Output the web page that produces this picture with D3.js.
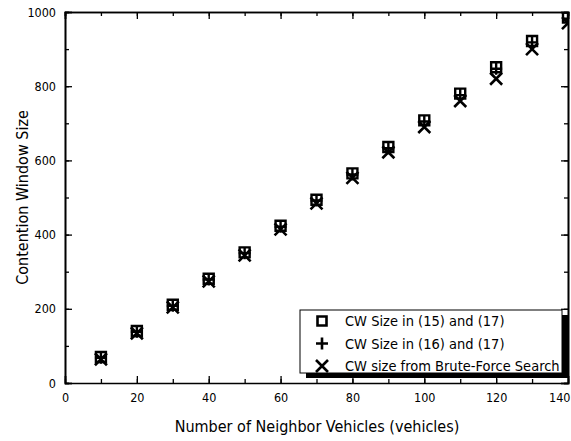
<!DOCTYPE html>
<html>
<head>
<meta charset="utf-8">
<script src="https://cdn.jsdelivr.net/npm/d3@7"></script>
<style>
  body { margin: 0; background: #fff; }
  text { font-family: Tahoma, "DejaVu Sans Condensed", "Liberation Sans", sans-serif; fill: #000; }
</style>
</head>
<body>
<script>
// data
const neighbors = [10, 20, 30, 40, 50, 60, 70, 80, 90, 100, 110, 120, 130, 140];
const cwEq15 = [70, 140, 211, 281, 352, 424, 494, 565, 636, 708, 780, 851, 922, 985];
const cwEq16 = [68, 138, 208, 279, 350, 421, 492, 562, 633, 705, 776, 847, 918, 982];
const cwBrute = [64, 134, 204, 274, 344, 414, 484, 553, 622, 690, 760, 820, 900, 970];
const xTicks = [0, 20, 40, 60, 80, 100, 120, 140];
const yTicks = [0, 200, 400, 600, 800, 1000];
const legendLabels = ["CW Size in (15) and (17)", "CW Size in (16) and (17)", "CW size from Brute-Force Search"];

const width = 571, height = 441;
const margin = {left: 65, right: 3, top: 12, bottom: 58};

const svg = d3.select('body').append('svg')
    .attr('width', width)
    .attr('height', height);

const x = d3.scaleLinear([0, 140], [margin.left, width - margin.right]);
const y = d3.scaleLinear([0, 1000], [height - margin.bottom, margin.top]);

svg.append('defs').append('clipPath').attr('id', 'plot')
  .append('rect')
    .attr('x', x(0)).attr('y', y(1000))
    .attr('width', x(140) - x(0)).attr('height', y(0) - y(1000));

// axes, ticks pointing inward
const minorX = d3.range(0, 141, 10);
const minorY = d3.range(0, 1001, 100);

svg.append('g')
    .attr('transform', `translate(0,${y(0)})`)
    .call(d3.axisBottom(x).tickValues(minorX).tickSize(-4).tickFormat(''))
    .call(g => g.select('.domain').remove());
svg.append('g')
    .attr('transform', `translate(0,${y(0)})`)
    .call(d3.axisBottom(x).tickValues(xTicks).tickSize(-7).tickPadding(10).tickFormat(d3.format('d')))
    .call(g => g.selectAll('text').attr('font-size', 12.5))
    .call(g => g.selectAll('.tick').filter(d => d === 140).select('text')
        .attr('text-anchor', 'end').attr('x', width - 1 - x(140)));
svg.append('g')
    .attr('transform', `translate(0,${y(1000)})`)
    .call(d3.axisTop(x).tickValues(minorX).tickSize(-4).tickFormat(''));
svg.append('g')
    .attr('transform', `translate(0,${y(1000)})`)
    .call(d3.axisTop(x).tickValues(xTicks).tickSize(-7).tickFormat(''));

svg.append('g')
    .attr('transform', `translate(${x(0)},0)`)
    .call(d3.axisLeft(y).tickValues(minorY).tickSize(-4).tickFormat(''));
svg.append('g')
    .attr('transform', `translate(${x(0)},0)`)
    .call(d3.axisLeft(y).tickValues(yTicks).tickSize(-7).tickPadding(9).tickFormat(d3.format('d')))
    .call(g => g.selectAll('text').attr('font-size', 12.5));
svg.append('g')
    .attr('transform', `translate(${x(140)},0)`)
    .call(d3.axisRight(y).tickValues(minorY).tickSize(-4).tickFormat(''));
svg.append('g')
    .attr('transform', `translate(${x(140)},0)`)
    .call(d3.axisRight(y).tickValues(yTicks).tickSize(-7).tickFormat(''));

svg.selectAll('.domain').attr('stroke-width', 1.6);
svg.selectAll('.tick line').attr('stroke-width', 1.3);

// markers
const sq = d3.symbol(d3.symbolSquare, 100)();
function plusPath(s) { return `M${-s},0H${s}M0,${-s}V${s}`; }
function xPath(s) { return `M${-s},${-s}L${s},${s}M${s},${-s}L${-s},${s}`; }

const marks = svg.append('g').attr('clip-path', 'url(#plot)');
const rows = neighbors.map((n, i) => ({n, a: cwEq15[i], b: cwEq16[i], c: cwBrute[i]}));

marks.selectAll('.sq').data(rows).join('path')
    .attr('transform', d => `translate(${x(d.n)},${y(d.a)})`)
    .attr('d', sq)
    .attr('fill', 'none').attr('stroke', '#000').attr('stroke-width', 2.4);
marks.selectAll('.pl').data(rows).join('path')
    .attr('transform', d => `translate(${x(d.n)},${y(d.b)})`)
    .attr('d', plusPath(6))
    .attr('fill', 'none').attr('stroke', '#000').attr('stroke-width', 2.4);
marks.selectAll('.xx').data(rows).join('path')
    .attr('transform', d => `translate(${x(d.n)},${y(d.c)})`)
    .attr('d', xPath(6))
    .attr('fill', 'none').attr('stroke', '#000').attr('stroke-width', 2.6);

// axis titles
svg.append('text')
    .attr('x', 317).attr('y', 432)
    .attr('text-anchor', 'middle').attr('font-size', 16)
    .text('Number of Neighbor Vehicles (vehicles)');
svg.append('text')
    .attr('transform', `translate(28,${(y(0) + y(1000)) / 2}) rotate(-90)`)
    .attr('text-anchor', 'middle').attr('font-size', 16)
    .text('Contention Window Size');

// legend with drop shadow
const lg = svg.append('g');
const lx = 300, ly = 310, lw = 262, lh = 63;
lg.append('rect').attr('x', lx + 6).attr('y', ly + 5).attr('width', lw).attr('height', lh).attr('fill', '#000');
lg.append('rect').attr('x', lx).attr('y', ly).attr('width', lw).attr('height', lh)
    .attr('fill', '#fff').attr('stroke', '#000').attr('stroke-width', 1);

const legendShapes = [d3.symbol(d3.symbolSquare, 81)(), plusPath(6), xPath(6)];
const ly0 = d3.scalePoint().domain(d3.range(legendLabels.length)).range([ly + 11, ly + 56]);
legendLabels.forEach((t, i) => {
  lg.append('path')
      .attr('transform', `translate(${lx + 22},${ly0(i)})`)
      .attr('d', legendShapes[i])
      .attr('fill', 'none').attr('stroke', '#000').attr('stroke-width', 2.6);
  lg.append('text')
      .attr('x', lx + 45).attr('y', ly0(i)).attr('dy', '0.35em')
      .attr('font-size', 14.5)
      .text(t);
});
</script>
</body>
</html>
